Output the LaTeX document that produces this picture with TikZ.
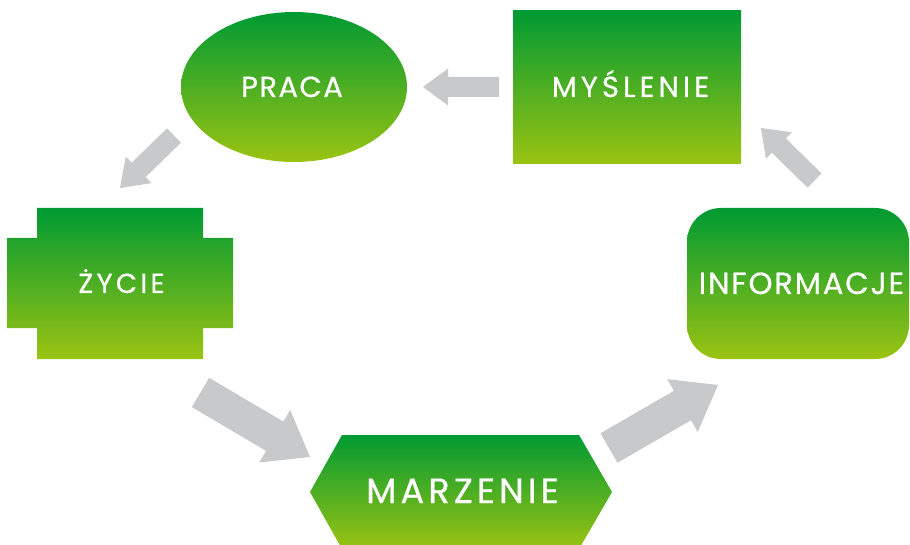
\documentclass[tikz,border=0pt]{standalone}
\usepackage{fontspec}
\newfontfamily\pop[FakeBold=0.6]{Poppins}
\usetikzlibrary{calc,shapes.geometric}
\definecolor{gtop}{HTML}{009A33}
\definecolor{gbot}{HTML}{9BC312}
\definecolor{arrowgray}{HTML}{C8C9CB}
\newcommand\grayarrow[5]{%
  \coordinate (hb) at ($(#2)!#5!(#1)$);
  \fill[arrowgray] ($(#1)!#3!90:(#2)$) -- ($(hb)!#3!-90:(#1)$) -- ($(hb)!#4!-90:(#1)$) -- (#2)
    -- ($(hb)!#4!90:(#1)$) -- ($(hb)!#3!90:(#1)$) -- ($(#1)!#3!-90:(#2)$) -- cycle;}
\newcommand\lblfont[2]{\pop\addfontfeatures{LetterSpace=#2}\fontsize{#1}{#1}\selectfont}
\begin{document}
\begin{tikzpicture}[x=1pt,y=-1pt,
  greenfill/.style={top color=gtop, bottom color=gbot, draw=none},
  shapebox/.style={greenfill, inner sep=0pt, outer sep=0pt},
  lbl/.style={text=white, anchor=base, inner sep=0pt}]
\useasboundingbox (0,0) rectangle (910,545);
% shapes
\node[shapebox, ellipse, minimum width=226pt, minimum height=150pt] (prac) at (294,87) {};
\node[shapebox, rectangle, minimum width=228pt, minimum height=153pt] (mysl) at (627,87.5) {};
\node[shapebox, rectangle, rounded corners=34pt, minimum width=222pt, minimum height=151pt] (info) at (798,283.5) {};
\shade[greenfill] (37,208) -- (203,208) -- (203,238) -- (233,238) -- (233,328) -- (203,328)
  -- (203,359) -- (37,359) -- (37,328) -- (7,328) -- (7,238) -- (37,238) -- cycle;
\shade[greenfill] (342,435) -- (579,435) -- (612,492) -- (579,549) -- (342,549) -- (310,492) -- cycle;
% labels
\node[lbl, font=\lblfont{29}{5}] (tpraca) at (292,97) {PRACA};
\node[lbl, font=\lblfont{29}{14}] (tmysl) at (630.5,97) {MYŚLENIE};
\node[lbl, font=\lblfont{30.5}{6}] (tinfo) at (801.5,294) {INFORMACJE};
\node[lbl, font=\lblfont{27.5}{12}] (tzycie) at (121.5,293) {ŻYCIE};
\node[lbl, font=\lblfont{35}{12}] (tmarz) at (462.5,503) {MARZENIE};
% arrow end points
\coordinate (a1s) at (499,87);    \coordinate (a1e) at (423,87);
\coordinate (a2s) at (174,135.5); \coordinate (a2e) at (120,188);
\coordinate (a3s) at (200.5,392.5); \coordinate (a3e) at (310,457);
\coordinate (a4s) at (609,448);   \coordinate (a4e) at (718,385);
\coordinate (a5s) at (814.5,180.5); \coordinate (a5e) at (761,128);
\grayarrow{a1s}{a1e}{10pt}{18.5pt}{25pt}
\grayarrow{a2s}{a2e}{10pt}{18.5pt}{26pt}
\grayarrow{a3s}{a3e}{17pt}{30.5pt}{41pt}
\grayarrow{a4s}{a4e}{17pt}{30.5pt}{41pt}
\grayarrow{a5s}{a5e}{10pt}{18.5pt}{25pt}
\end{tikzpicture}
\end{document}
